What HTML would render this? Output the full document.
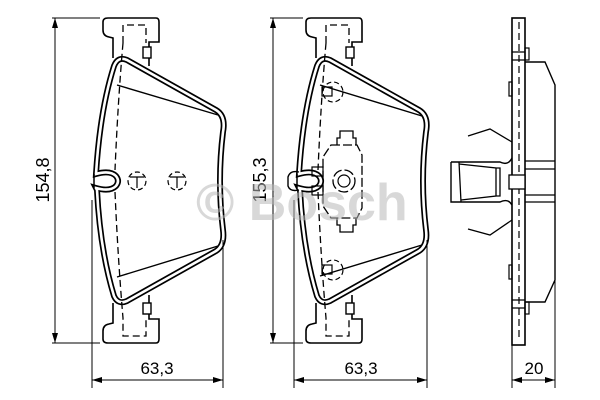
<!DOCTYPE html>
<html><head><meta charset="utf-8"><style>
html,body{margin:0;padding:0;background:#fff;}
svg{display:block;}
text{font-family:"Liberation Sans",Arial,sans-serif;}
</style></head><body>
<svg width="600" height="400" viewBox="0 0 600 400" xmlns="http://www.w3.org/2000/svg">
<defs>
<marker id="a" markerWidth="10" markerHeight="8" refX="10" refY="4" orient="auto-start-reverse" markerUnits="userSpaceOnUse">
<path d="M0,1 L10,4 L0,7 Z" fill="#000"/></marker>
<g id="pad">
 <path d="M113,58 L113,38 L109,37 Q103,36 103,30 L103,22 Q103,18 108,18 L156,18 Q159,18 159,22 L159,42 L149,42 L149,66" fill="none" stroke="#000" stroke-width="1.6"/>
 <path d="M113,303 L113,323 L109,324 Q103,325 103,331 L103,339 Q103,343 108,343 L156,343 Q159,343 159,339 L159,319 L149,319 L149,295" fill="none" stroke="#000" stroke-width="1.6"/>
 <rect x="143" y="47" width="8" height="11" fill="#fff" stroke="#000" stroke-width="1.4"/>
 <rect x="143" y="303" width="8" height="11" fill="#fff" stroke="#000" stroke-width="1.4"/>
 <path d="M127,60 L216,110 Q226,116 223,132 Q217,181 223,230 Q225,245 216,251 L127,301 Q118,305 114,296 Q100,250 97,190 L96,188 Q110,192 116,186 Q120,181 116,176 Q110,170 96,174 Q100,110 114,66 Q118,56 127,60 Z" fill="none" stroke="#000" stroke-width="6"/>
 <path d="M127,60 L216,110 Q226,116 223,132 Q217,181 223,230 Q225,245 216,251 L127,301 Q118,305 114,296 Q100,250 97,190 L96,188 Q110,192 116,186 Q120,181 116,176 Q110,170 96,174 Q100,110 114,66 Q118,56 127,60 Z" fill="none" stroke="#fff" stroke-width="2.6"/>
 <path d="M94,174 L94,188" stroke="#000" stroke-width="1.5"/>
 <path d="M123,43 L123,25 L146,25 L146,43 M123,43 Q118,100 115,170 M115,192 Q118,260 123,318 L123,336 L146,336 L146,318" fill="none" stroke="#000" stroke-width="1.3" stroke-dasharray="7,4"/>
</g>
</defs>

<use href="#pad"/>
<line x1="117" y1="85" x2="218" y2="115" stroke="#000" stroke-width="1.4"/>
<line x1="117" y1="277" x2="218" y2="246" stroke="#000" stroke-width="1.4"/>
<circle cx="137" cy="181" r="9" fill="none" stroke="#000" stroke-width="1.2" stroke-dasharray="5,3"/>
<path d="M130,177 L144,177 M137,177 L137,188" stroke="#000" stroke-width="1.2"/>
<circle cx="177" cy="181" r="9" fill="none" stroke="#000" stroke-width="1.2" stroke-dasharray="5,3"/>
<path d="M170,177 L184,177 M177,177 L177,188" stroke="#000" stroke-width="1.2"/>

<line x1="55" y1="18" x2="55" y2="343" stroke="#000" stroke-width="1" marker-start="url(#a)" marker-end="url(#a)"/>
<line x1="52" y1="18" x2="100" y2="18" stroke="#000" stroke-width="1"/>
<line x1="52" y1="343" x2="100" y2="343" stroke="#000" stroke-width="1"/>
<text transform="translate(49,180) rotate(-90)" font-size="18" text-anchor="middle">154,8</text>
<line x1="92" y1="200" x2="92" y2="388" stroke="#000" stroke-width="1"/>
<line x1="223" y1="240" x2="223" y2="388" stroke="#000" stroke-width="1"/>
<line x1="92" y1="380" x2="223" y2="380" stroke="#000" stroke-width="1" marker-start="url(#a)" marker-end="url(#a)"/>
<text x="157" y="374" font-size="17" text-anchor="middle">63,3</text>

<use href="#pad" transform="translate(203,0)"/>
<path d="M299,172 Q290,170 288,177 L288,186 Q290,192 299,190" fill="none" stroke="#000" stroke-width="1.4"/>
<line x1="320" y1="85" x2="422" y2="116" stroke="#000" stroke-width="1.4"/>
<line x1="320" y1="276" x2="422" y2="245" stroke="#000" stroke-width="1.4"/>
<circle cx="333" cy="92" r="10" fill="none" stroke="#000" stroke-width="1.2" stroke-dasharray="5,3"/>
<rect x="322" y="87" width="10" height="9" fill="none" stroke="#000" stroke-width="1.2"/>
<circle cx="333" cy="270" r="10" fill="none" stroke="#000" stroke-width="1.2" stroke-dasharray="5,3"/>
<rect x="322" y="265" width="10" height="9" fill="none" stroke="#000" stroke-width="1.2"/>
<path d="M331,145 L357,145 L362,155 L362,208 L357,218 L331,218 L323,206 L323,157 Z" fill="none" stroke="#000" stroke-width="1.3" stroke-dasharray="9,3"/>
<path d="M337,145 L337,138 L340,138 L340,131 L353,131 L353,138 L356,138 L356,145" fill="none" stroke="#000" stroke-width="1.3"/>
<path d="M337,218 L337,225 L340,225 L340,232 L353,232 L353,225 L356,225 L356,218" fill="none" stroke="#000" stroke-width="1.3"/>
<rect x="312" y="167" width="11" height="9" fill="none" stroke="#000" stroke-width="1.2"/>
<rect x="312" y="186" width="11" height="9" fill="none" stroke="#000" stroke-width="1.2"/>
<circle cx="344" cy="181" r="11" fill="none" stroke="#000" stroke-width="1.3" stroke-dasharray="10,3"/>
<circle cx="344" cy="181" r="6" fill="none" stroke="#000" stroke-width="1.2"/>

<line x1="273" y1="18" x2="273" y2="343" stroke="#000" stroke-width="1" marker-start="url(#a)" marker-end="url(#a)"/>
<line x1="270" y1="18" x2="303" y2="18" stroke="#000" stroke-width="1"/>
<line x1="270" y1="343" x2="303" y2="343" stroke="#000" stroke-width="1"/>
<text transform="translate(266,180) rotate(-90)" font-size="18" text-anchor="middle">155,3</text>
<line x1="294" y1="200" x2="294" y2="388" stroke="#000" stroke-width="1"/>
<line x1="427" y1="240" x2="427" y2="388" stroke="#000" stroke-width="1"/>
<line x1="294" y1="380" x2="427" y2="380" stroke="#000" stroke-width="1" marker-start="url(#a)" marker-end="url(#a)"/>
<text x="361" y="374" font-size="17" text-anchor="middle">63,3</text>

<path d="M525,62 L545,62 L555,85 L555,280 L545,302 L525,302" fill="none" stroke="#000" stroke-width="1.4"/>
<path d="M525,161 L555,161 M525,169 L555,169 M525,195 L555,195 M525,202 L555,202" stroke="#000" stroke-width="1.3"/>
<rect x="512" y="18" width="13" height="327" fill="#fff" stroke="#000" stroke-width="1.6"/>
<line x1="519" y1="22" x2="519" y2="340" stroke="#000" stroke-width="1.2" stroke-dasharray="7,4"/>
<path d="M512,52 L525,52 M512,60 L525,60 M512,300 L525,300 M512,308 L525,308" stroke="#000" stroke-width="1.2"/>
<rect x="525" y="48" width="4" height="12" fill="none" stroke="#000" stroke-width="1.2"/>
<rect x="525" y="302" width="4" height="12" fill="none" stroke="#000" stroke-width="1.2"/>
<rect x="509" y="82" width="3" height="14" fill="none" stroke="#000" stroke-width="1.2"/>
<rect x="509" y="265" width="3" height="14" fill="none" stroke="#000" stroke-width="1.2"/>
<rect x="509" y="175" width="16" height="14" fill="#fff" stroke="#000" stroke-width="1.3"/>
<path d="M451,162 L451,202 L500,202 Q508,198 512,205 M451,162 L500,162 Q508,166 512,158" fill="none" stroke="#000" stroke-width="1.4"/>
<path d="M459,162 L461,202 M459,164 L496,168 L496,196 L461,200 M496,168 L500,168 L500,196 L496,196" fill="none" stroke="#000" stroke-width="1.3"/>
<path d="M468,136 L490,129 L512,142 M468,229 L490,235 L512,220" fill="none" stroke="#000" stroke-width="1.3"/>

<line x1="512" y1="345" x2="512" y2="388" stroke="#000" stroke-width="1"/>
<line x1="555" y1="280" x2="555" y2="388" stroke="#000" stroke-width="1"/>
<line x1="512" y1="380" x2="555" y2="380" stroke="#000" stroke-width="1" marker-start="url(#a)" marker-end="url(#a)"/>
<text x="534" y="374" font-size="17" text-anchor="middle">20</text>

<text x="196" y="220" font-size="52" font-weight="bold" fill="#b8b8b8" fill-opacity="0.55">© Bosch</text>
</svg>
</body></html>
